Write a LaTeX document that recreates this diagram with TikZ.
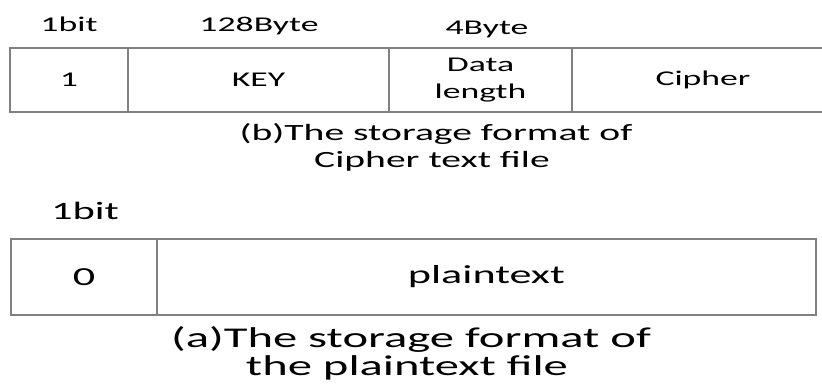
\documentclass[tikz,border=0pt]{standalone}
\usepackage{fontspec}
\setmainfont[FakeStretch=1.7]{Carlito}
\begin{document}
\begin{tikzpicture}[x=1pt,y=-1pt,
  cell/.style={draw=gray, line width=1.1pt, inner sep=0pt, minimum height=64pt, align=center, font=\fontsize{21}{27}\selectfont},
  lbl/.style={inner sep=0pt, anchor=base, font=\fontsize{21}{24}\selectfont},
  bigcell/.style={cell, minimum height=76pt, font=\fontsize{26}{30}\selectfont},
  biglbl/.style={lbl, font=\fontsize{25}{28}\selectfont},
  capb/.style={inner sep=0pt, anchor=base, align=center, font=\fontsize{23.3}{27}\selectfont},
  capa/.style={inner sep=0pt, anchor=base, align=center, font=\fontsize{28.6}{30}\selectfont}]
\useasboundingbox (0,0) rectangle (822,384);
% top row (b)
\node[lbl] (t1) at (69,31) {1bit};
\node[lbl] (t2) at (259,31) {128Byte};
\node[lbl] (t3) at (487,34) {4Byte};
\node[cell, minimum width=118pt] (b1) at (69,80) {1};
\node[cell, minimum width=261pt] (b2) at (258.5,80) {KEY};
\node[cell, minimum width=183pt] (b3) at (480.5,80) {Data\\length};
\node[cell, minimum width=262pt] (b4) at (703,80) {Cipher};
\node[capb] (capb1) at (436,140) {(b)The storage format of};
\node[capb] (capb2) at (432,167) {Cipher text file};
% bottom row (a)
\node[biglbl] (u1) at (85,219) {1bit};
\node[bigcell, minimum width=146pt] (a1) at (84,277) {0};
\node[bigcell, minimum width=659pt] (a2) at (486.5,277) {plaintext};
\node[capa] (capa1) at (411,347) {(a)The storage format of};
\node[capa] (capa2) at (407,375) {the plaintext file};
\end{tikzpicture}
\end{document}
